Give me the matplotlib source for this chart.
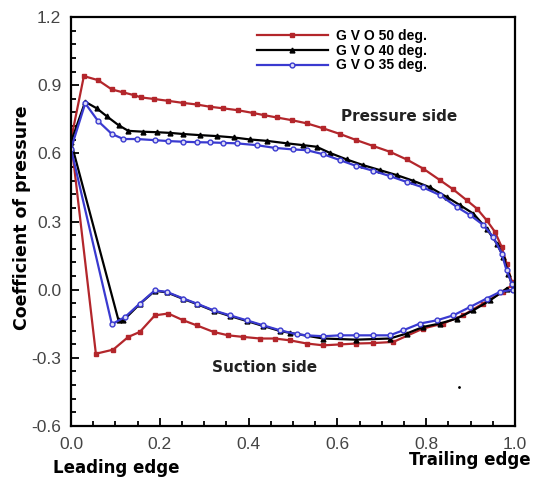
import matplotlib
matplotlib.use('Agg')
import matplotlib.pyplot as plt
from matplotlib.ticker import MultipleLocator, FormatStrFormatter

# GVO 50 deg (red): pressure side from LE to TE, suction side from LE to TE
g50_ps_x = [0.0, 0.029, 0.061, 0.092, 0.118, 0.142, 0.158, 0.188, 0.219, 0.252, 0.283, 0.313,
            0.343, 0.375, 0.409, 0.435, 0.463, 0.497, 0.531, 0.568, 0.606, 0.643, 0.681, 0.718,
            0.756, 0.793, 0.831, 0.861, 0.891, 0.914, 0.936, 0.955, 0.970, 0.981, 0.993]
g50_ps_y = [0.66, 0.940, 0.922, 0.881, 0.868, 0.856, 0.846, 0.839, 0.831, 0.822, 0.815, 0.805,
            0.798, 0.790, 0.778, 0.768, 0.758, 0.746, 0.732, 0.710, 0.685, 0.658, 0.632, 0.607,
            0.573, 0.533, 0.482, 0.441, 0.394, 0.357, 0.306, 0.254, 0.188, 0.115, 0.034]
g50_ss_x = [0.0, 0.056, 0.095, 0.129, 0.155, 0.189, 0.219, 0.253, 0.283, 0.321, 0.354, 0.388,
            0.426, 0.459, 0.493, 0.531, 0.568, 0.606, 0.643, 0.681, 0.726, 0.793, 0.838, 0.883,
            0.928, 0.973, 0.993]
g50_ss_y = [0.66, -0.282, -0.264, -0.208, -0.186, -0.113, -0.105, -0.135, -0.157, -0.186, -0.201, -0.208,
            -0.215, -0.215, -0.223, -0.237, -0.245, -0.241, -0.237, -0.235, -0.230, -0.171, -0.149, -0.113,
            -0.061, -0.010, 0.02]

# GVO 40 deg (black)
g40_ps_x = [0.0, 0.032, 0.058, 0.080, 0.107, 0.129, 0.163, 0.193, 0.223, 0.253, 0.291, 0.328,
            0.366, 0.403, 0.441, 0.486, 0.523, 0.553, 0.583, 0.621, 0.658, 0.696, 0.734, 0.771,
            0.809, 0.846, 0.876, 0.906, 0.936, 0.959, 0.974, 0.985, 0.996]
g40_ps_y = [0.65, 0.827, 0.798, 0.764, 0.724, 0.699, 0.695, 0.693, 0.690, 0.685, 0.680, 0.676,
            0.670, 0.661, 0.655, 0.644, 0.636, 0.629, 0.602, 0.573, 0.548, 0.526, 0.504, 0.479,
            0.450, 0.408, 0.372, 0.335, 0.269, 0.203, 0.144, 0.071, 0.005]
g40_ss_x = [0.0, 0.107, 0.118, 0.155, 0.189, 0.216, 0.253, 0.283, 0.321, 0.358, 0.396, 0.433,
            0.471, 0.493, 0.568, 0.643, 0.718, 0.756, 0.793, 0.831, 0.869, 0.906, 0.944, 0.981]
g40_ss_y = [0.65, -0.135, -0.135, -0.063, -0.005, -0.012, -0.041, -0.063, -0.093, -0.116, -0.138, -0.160,
            -0.182, -0.190, -0.215, -0.220, -0.215, -0.193, -0.164, -0.149, -0.127, -0.091, -0.047, 0.005]

# GVO 35 deg (blue)
g35_ps_x = [0.0, 0.032, 0.061, 0.092, 0.118, 0.148, 0.189, 0.219, 0.253, 0.283, 0.313, 0.343,
            0.373, 0.418, 0.459, 0.501, 0.531, 0.568, 0.606, 0.643, 0.681, 0.718, 0.756, 0.793,
            0.831, 0.869, 0.899, 0.929, 0.951, 0.970, 0.981, 0.993]
g35_ps_y = [0.62, 0.820, 0.742, 0.685, 0.663, 0.663, 0.658, 0.654, 0.651, 0.649, 0.648, 0.646,
            0.644, 0.636, 0.624, 0.617, 0.614, 0.596, 0.570, 0.544, 0.523, 0.500, 0.474, 0.450,
            0.416, 0.364, 0.328, 0.284, 0.232, 0.159, 0.085, 0.027]
g35_ss_x = [0.0, 0.092, 0.122, 0.155, 0.189, 0.216, 0.253, 0.283, 0.321, 0.358, 0.396, 0.433,
            0.471, 0.508, 0.531, 0.568, 0.606, 0.643, 0.681, 0.718, 0.748, 0.786, 0.824, 0.861,
            0.899, 0.936, 0.966, 0.995]
g35_ss_y = [0.62, -0.152, -0.120, -0.061, -0.003, -0.010, -0.039, -0.061, -0.091, -0.113, -0.135, -0.157,
            -0.179, -0.196, -0.201, -0.205, -0.201, -0.201, -0.201, -0.201, -0.179, -0.149, -0.135, -0.113,
            -0.076, -0.039, -0.010, 0.0]

labels = ['G V O 50 deg.', 'G V O 40 deg.', 'G V O 35 deg.']

red = '#b3262b'
blue = '#3a3ad0'

fig = plt.figure(figsize=(5.38, 4.78), dpi=100)
ax = fig.add_axes([71/538, 1-426/478, 444/538, 409/478])

def loop(px, py, sx, sy):
    # pressure side back to LE, then suction side out to TE
    return px[::-1] + sx[1:], py[::-1] + sy[1:]

x, y = loop(g50_ps_x, g50_ps_y, g50_ss_x, g50_ss_y)
l1, = ax.plot(x, y, color=red, lw=1.6, marker='s', ms=3.5, mfc=red, mec=red, label=labels[0])
x, y = loop(g40_ps_x, g40_ps_y, g40_ss_x, g40_ss_y)
l2, = ax.plot(x, y, color='black', lw=1.6, marker='^', ms=3.5, mfc='black', mec='black', label=labels[1])
x, y = loop(g35_ps_x, g35_ps_y, g35_ss_x, g35_ss_y)
l3, = ax.plot(x, y, color=blue, lw=1.6, marker='o', ms=3.5, mfc='#dcdcf5', mec=blue, mew=1.0, label=labels[2])

ax.plot([0.874], [-0.43], 'k.', ms=2)

ax.set_xlim(0, 1.0)
ax.set_ylim(-0.6, 1.2)
ax.xaxis.set_major_locator(MultipleLocator(0.2))
ax.xaxis.set_minor_locator(MultipleLocator(0.05))
ax.yaxis.set_major_locator(MultipleLocator(0.3))
ax.yaxis.set_minor_locator(MultipleLocator(0.06))
ax.xaxis.set_major_formatter(FormatStrFormatter('%.1f'))
ax.yaxis.set_major_formatter(FormatStrFormatter('%.1f'))
ax.tick_params(which='both', direction='in', top=False, right=False, width=1.3)
ax.tick_params(which='major', length=6, labelsize=12.5, labelcolor='#444444')
ax.tick_params(which='minor', length=3.5)
ax.tick_params(axis='x', pad=8)
ax.tick_params(axis='y', pad=7)
for lab in ax.get_xticklabels() + ax.get_yticklabels():
    lab.set_family('Liberation Sans')
for s in ax.spines.values():
    s.set_linewidth(1.6)

ax.text(0.738, 0.762, 'Pressure side', ha='center', va='center', fontsize=11, fontweight='bold', color='#222222')
ax.text(0.437, -0.344, 'Suction side', ha='center', va='center', fontsize=11, fontweight='bold', color='#222222')

fig.text(22/538, 1-218/478, 'Coefficient of pressure', rotation=90, ha='center', va='center',
         fontsize=12.5, fontweight='bold')
fig.text(53/538, 1-473/478, 'Leading edge', ha='left', va='baseline', fontsize=12, fontweight='bold')
fig.text(531/538, 1-465/478, 'Trailing edge', ha='right', va='baseline', fontsize=12, fontweight='bold')

ax.legend(handles=[l1, l2, l3], loc='upper left', bbox_to_anchor=(257/538, 1-29/478),
          bbox_transform=fig.transFigure, frameon=False, borderpad=0, borderaxespad=0,
          handlelength=5.1, handletextpad=0.58, labelspacing=0.05, numpoints=1,
          prop={'family': 'Liberation Sans', 'weight': 'bold', 'size': 10})

fig.savefig('out.png', dpi=100)
